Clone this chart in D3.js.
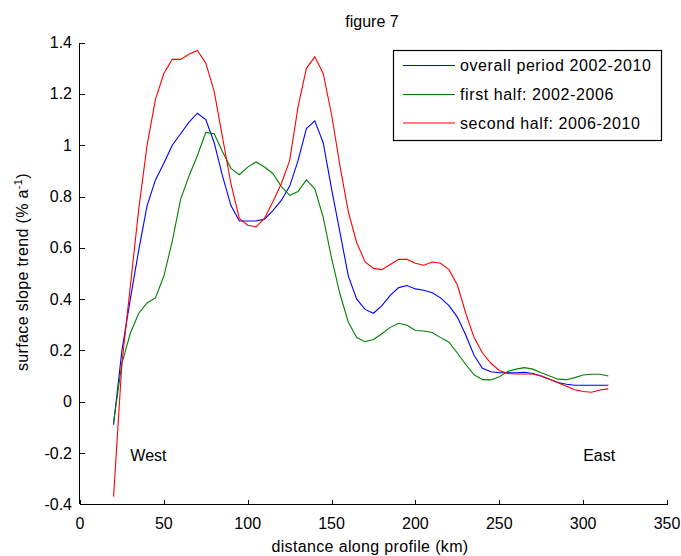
<!DOCTYPE html>
<html>
<head>
<meta charset="utf-8">
<script src="https://cdn.jsdelivr.net/npm/d3@7"></script>
<style>
  body { margin: 0; background: #fff; }
  text { font-family: "Liberation Sans", Arial, Helvetica, sans-serif; fill: #000; }
</style>
</head>
<body>
<div id="viz"></div>
<script>
// distance along profile (km), one sample every 5 km
var distance = d3.range(20, 316, 5);

var overall = [-0.09, 0.20, 0.40, 0.59, 0.765, 0.865, 0.93, 1.00, 1.045, 1.09,
  1.125, 1.10, 1.01, 0.88, 0.765, 0.705, 0.705, 0.705, 0.712, 0.745,
  0.785, 0.84, 0.94, 1.065, 1.095, 1.01, 0.83, 0.66, 0.49, 0.40,
  0.36, 0.345, 0.375, 0.415, 0.445, 0.453, 0.44, 0.435, 0.425, 0.405,
  0.375, 0.33, 0.26, 0.18, 0.13, 0.117, 0.113, 0.113, 0.113, 0.115,
  0.11, 0.10, 0.088, 0.075, 0.068, 0.064, 0.064, 0.064, 0.064, 0.064];

var firstHalf = [-0.08, 0.15, 0.267, 0.345, 0.385, 0.405, 0.49, 0.625, 0.79, 0.88,
  0.96, 1.05, 1.045, 0.975, 0.91, 0.885, 0.915, 0.935, 0.915, 0.89,
  0.84, 0.805, 0.82, 0.865, 0.83, 0.72, 0.56, 0.42, 0.31, 0.25,
  0.234, 0.243, 0.265, 0.29, 0.306, 0.298, 0.278, 0.276, 0.27, 0.25,
  0.232, 0.19, 0.145, 0.105, 0.086, 0.085, 0.097, 0.118, 0.127, 0.133,
  0.127, 0.113, 0.10, 0.088, 0.086, 0.094, 0.104, 0.107, 0.107, 0.10];

var secondHalf = [-0.37, 0.15, 0.45, 0.75, 1.00, 1.18, 1.28, 1.335, 1.335, 1.355,
  1.37, 1.32, 1.21, 1.03, 0.85, 0.715, 0.688, 0.682, 0.715, 0.78,
  0.85, 0.94, 1.15, 1.30, 1.345, 1.28, 1.12, 0.92, 0.74, 0.62,
  0.545, 0.52, 0.515, 0.535, 0.555, 0.555, 0.54, 0.532, 0.545, 0.54,
  0.515, 0.455, 0.345, 0.25, 0.19, 0.15, 0.122, 0.11, 0.108, 0.108,
  0.108, 0.10, 0.088, 0.074, 0.06, 0.047, 0.04, 0.037, 0.046, 0.05];

var seriesNames = ["overall period 2002-2010", "first half: 2002-2006", "second half: 2006-2010"];
var seriesColors = ["#0000ff", "#008000", "#ff0000"];

var xTicks = [0, 50, 100, 150, 200, 250, 300, 350];
var yTicks = [-0.4, -0.2, 0, 0.2, 0.4, 0.6, 0.8, 1, 1.2, 1.4];
var yTickLabels = ["-0.4", "-0.2", "0", "0.2", "0.4", "0.6", "0.8", "1", "1.2", "1.4"];

// annotations: [label, km, value]
var annotations = [["West", 30, -0.2], ["East", 300, -0.2]];

(function() {
  var width = 681, height = 556;
  var plotLeft = 80, plotRight = 667, plotTop = 42.7, plotBottom = 504.3;

  var svg = d3.select("#viz").append("svg")
      .attr("width", width)
      .attr("height", height);

  var x = d3.scaleLinear().domain([0, 350]).range([plotLeft, plotRight]);
  var y = d3.scaleLinear().domain([-0.4, 1.4]).range([plotBottom, plotTop]);

  // axes, ticks pointing inward like matlab
  var xAxis = svg.append("g")
      .attr("transform", "translate(0," + (Math.round(plotBottom) + 0.5) + ")")
      .call(d3.axisTop(x).tickValues(xTicks).tickSize(5).tickFormat(""));
  xAxis.selectAll("path, line").attr("stroke", "#000").attr("shape-rendering", "crispEdges");
  xAxis.select(".domain").attr("d", "M" + plotLeft + ",0H" + plotRight);

  svg.append("g").selectAll("text")
      .data(xTicks)
      .enter()
      .append("text")
      .attr("x", function(d) { return x(d); })
      .attr("y", 529)
      .attr("text-anchor", "middle")
      .style("font-size", "16px")
      .text(function(d) { return d; });

  var yAxis = svg.append("g")
      .attr("transform", "translate(" + (Math.round(plotLeft) - 0.5) + ",0)")
      .call(d3.axisRight(y).tickValues(yTicks).tickSize(5).tickFormat(""));
  yAxis.selectAll("path, line").attr("stroke", "#000").attr("shape-rendering", "crispEdges");
  yAxis.select(".domain").attr("d", "M0," + plotTop + "V" + plotBottom);

  svg.append("g").selectAll("text")
      .data(yTicks)
      .enter()
      .append("text")
      .attr("x", 72)
      .attr("y", function(d) { return y(d) + 5.5; })
      .attr("text-anchor", "end")
      .style("font-size", "16px")
      .text(function(d, i) { return yTickLabels[i]; });

  // lines
  var line = d3.line()
      .x(function(d, i) { return x(distance[i]); })
      .y(function(d) { return y(d); });

  var allSeries = [overall, firstHalf, secondHalf];
  svg.append("g").selectAll("path")
      .data(allSeries)
      .enter()
      .append("path")
      .attr("d", line)
      .attr("fill", "none")
      .attr("stroke-width", 1.1)
      .attr("stroke", function(d, i) { return seriesColors[i]; });

  // West / East
  svg.append("g").selectAll("text")
      .data(annotations)
      .enter()
      .append("text")
      .attr("x", function(d) { return x(d[1]); })
      .attr("y", function(d) { return y(d[2]) + 7.5; })
      .style("font-size", "16px")
      .text(function(d) { return d[0]; });

  // title and axis labels
  svg.append("text")
      .attr("x", 372)
      .attr("y", 27)
      .attr("text-anchor", "middle")
      .style("font-size", "16px")
      .text("figure 7");

  svg.append("text")
      .attr("x", 370)
      .attr("y", 552)
      .attr("text-anchor", "middle")
      .style("font-size", "16px")
      .style("letter-spacing", "0.35px")
      .text("distance along profile (km)");

  var yLabel = svg.append("text")
      .attr("transform", "translate(28,272) rotate(-90)")
      .attr("text-anchor", "middle")
      .style("font-size", "16px")
      .style("letter-spacing", "0.35px");
  yLabel.append("tspan").text("surface slope trend (% a");
  yLabel.append("tspan").attr("dy", -6).style("font-size", "11px").text("-1");
  yLabel.append("tspan").attr("dy", 6).text(")");

  // legend
  var legend = svg.append("g");
  legend.append("rect")
      .attr("x", 393.5)
      .attr("y", 50.5)
      .attr("width", 268)
      .attr("height", 90)
      .attr("fill", "#fff")
      .attr("stroke", "#000")
      .attr("stroke-width", 1.2);

  var rowY = [65, 94, 122.5];
  var rows = legend.selectAll(".row")
      .data(seriesNames)
      .enter()
      .append("g")
      .attr("class", "row")
      .attr("transform", function(d, i) { return "translate(0," + rowY[i] + ")"; });
  rows.append("line")
      .attr("x1", 403).attr("x2", 455)
      .attr("y1", 0.5).attr("y2", 0.5)
      .attr("stroke-width", 1.1)
      .attr("stroke", function(d, i) { return seriesColors[i]; });
  rows.append("text")
      .attr("x", 460)
      .attr("y", 6)
      .style("font-size", "16px")
      .style("letter-spacing", "0.6px")
      .text(function(d) { return d; });
})();
</script>
</body>
</html>
